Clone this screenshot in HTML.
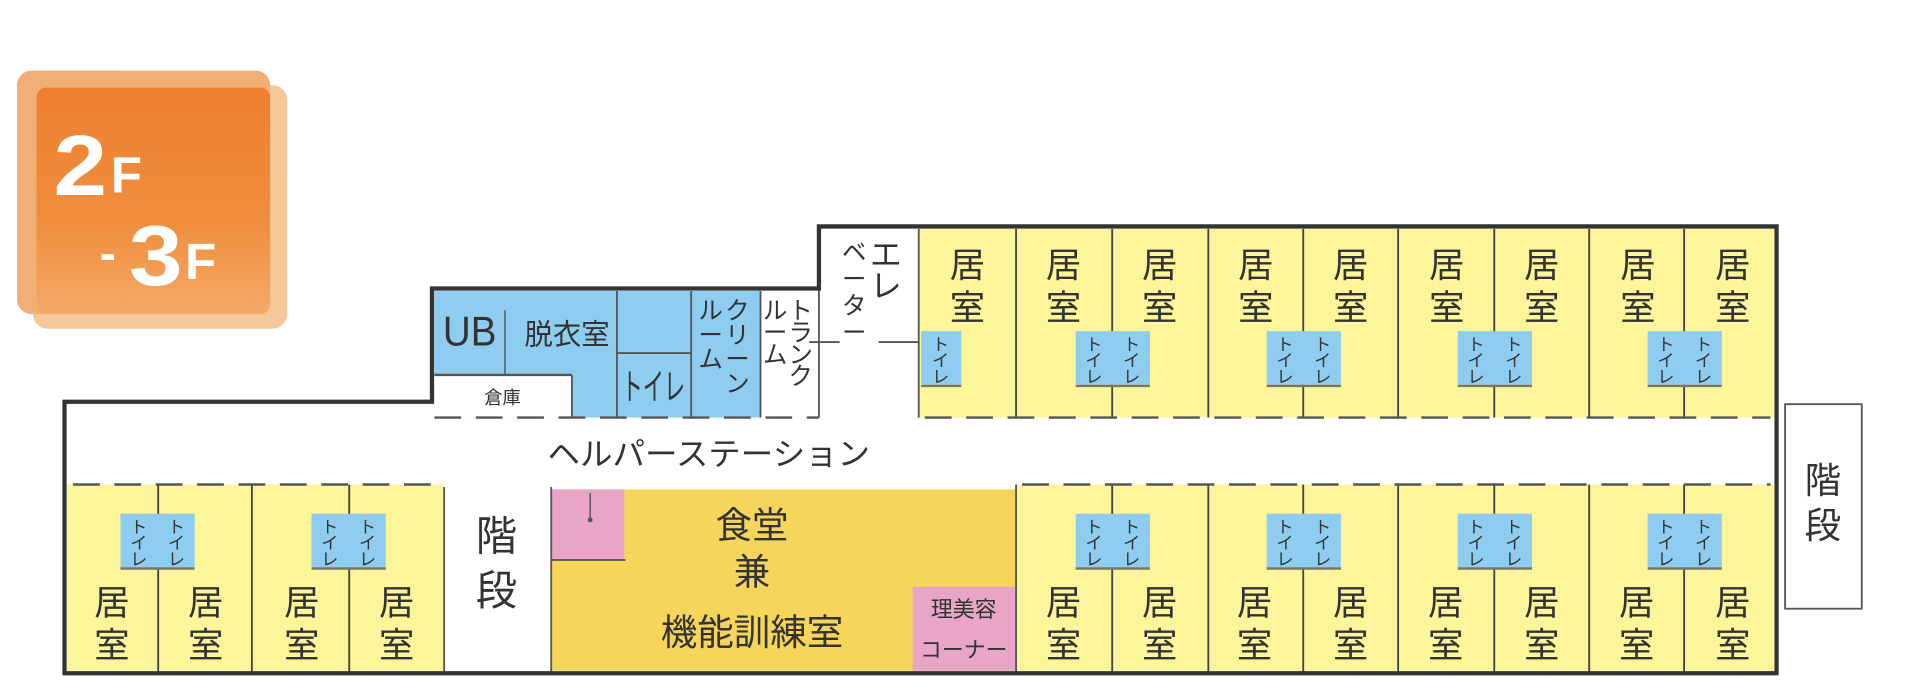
<!DOCTYPE html>
<html><head><meta charset="utf-8"><style>
html,body{margin:0;padding:0;background:#fff}
svg{display:block}
text{font-family:"Liberation Sans","Noto Sans CJK JP",sans-serif;fill:#333}
</style></head><body>
<svg width="1908" height="700" viewBox="0 0 1568 575" preserveAspectRatio="none" xmlns="http://www.w3.org/2000/svg">
<defs>
<linearGradient id="og" x1="0" y1="0" x2="0" y2="1"><stop offset="0" stop-color="#ee8030"/><stop offset="0.6" stop-color="#f08e3e"/><stop offset="1" stop-color="#f3aa68"/></linearGradient>
</defs>
<rect x="14" y="58" width="208" height="200" rx="12" fill="#efa060" opacity="0.85"/>
<rect x="27" y="70" width="209" height="200" rx="12" fill="#f0b070" opacity="0.7"/>
<rect x="30" y="72" width="192" height="186" rx="8" fill="url(#og)"/>
<text x="44" y="160" font-size="70" font-weight="bold" textLength="44" lengthAdjust="spacingAndGlyphs" style="fill:#fff">2</text>
<text x="91" y="158" font-size="42" font-weight="bold" style="fill:#fff">F</text>
<text x="82" y="222" font-size="40" font-weight="bold" style="fill:#fff">-</text>
<text x="106" y="234" font-size="70" font-weight="bold" textLength="44" lengthAdjust="spacingAndGlyphs" style="fill:#fff">3</text>
<text x="152" y="229" font-size="42" font-weight="bold" style="fill:#fff">F</text>

<rect x="1467" y="332" width="63" height="168" fill="#fff" stroke="#555" stroke-width="1.5"/>
<text x="1498" y="405" font-size="30" text-anchor="middle">階</text>
<text x="1498" y="442" font-size="30" text-anchor="middle">段</text>

<path d="M53 330 H355 V237 H673 V186 H1460 V553 H53 Z" fill="#fff"/>
<rect x="755" y="188" width="705" height="155" fill="#fdf59a"/>
<rect x="357" y="239" width="268" height="104" fill="#8ecdf0"/>
<rect x="357" y="308" width="113" height="35" fill="#fff"/>
<line x1="357" y1="308" x2="470" y2="308" stroke="#555" stroke-width="2"/>
<line x1="470" y1="308" x2="470" y2="343" stroke="#555" stroke-width="1.5"/>
<line x1="415" y1="255" x2="415" y2="308" stroke="#555" stroke-width="1.2"/>
<line x1="507" y1="239" x2="507" y2="343" stroke="#555" stroke-width="1.5"/>
<line x1="507" y1="290" x2="568" y2="290" stroke="#555" stroke-width="1.5"/>
<line x1="568" y1="239" x2="568" y2="343" stroke="#555" stroke-width="1.5"/>
<line x1="625" y1="239" x2="625" y2="343" stroke="#555" stroke-width="1.5"/>
<line x1="673" y1="188" x2="673" y2="343" stroke="#555" stroke-width="1.5"/>
<line x1="755" y1="188" x2="755" y2="343" stroke="#555" stroke-width="1.5"/>
<line x1="665" y1="281" x2="690" y2="281" stroke="#555" stroke-width="1.5"/>
<line x1="722" y1="281" x2="755" y2="281" stroke="#555" stroke-width="1.5"/>
<text x="364" y="284" font-size="34" textLength="44" lengthAdjust="spacingAndGlyphs">UB</text>
<text x="431" y="283" font-size="24" textLength="70" lengthAdjust="spacingAndGlyphs">脱衣室</text>
<text x="413" y="332" font-size="15" text-anchor="middle">倉庫</text>
<text x="511" y="328" font-size="30" textLength="52" lengthAdjust="spacingAndGlyphs">トイレ</text>
<g font-size="20" text-anchor="middle">
<text x="606" y="262">ク</text><text x="606" y="282">リ</text><text x="606" y="302">ー</text><text x="606" y="322">ン</text>
<text x="584" y="262">ル</text><text x="584" y="282">ー</text><text x="584" y="302">ム</text>
<text x="658" y="262">ト</text><text x="658" y="280">ラ</text><text x="658" y="298">ン</text><text x="658" y="316">ク</text>
<text x="637" y="262">ル</text><text x="637" y="280">ー</text><text x="637" y="298">ム</text>
<text x="728" y="218" font-size="26">エ</text><text x="728" y="244" font-size="26">レ</text>
<text x="702" y="214">ベ</text><text x="702" y="236">ー</text><text x="702" y="258">タ</text><text x="702" y="280">ー</text>
</g>

<rect x="55" y="398" width="310" height="153" fill="#fdf59a"/>
<rect x="835" y="398" width="625" height="153" fill="#fdf59a"/>
<rect x="453" y="402" width="382" height="149" fill="#f5d65b"/>
<rect x="453" y="402" width="60" height="58" fill="#e8a5c5"/>
<line x1="453" y1="460" x2="514" y2="460" stroke="#555" stroke-width="1.5"/>
<line x1="485" y1="405" x2="485" y2="425" stroke="#555" stroke-width="1.2"/>
<circle cx="485" cy="427" r="2" fill="#555"/>
<rect x="750" y="482" width="85" height="69" fill="#e8a5c5"/>
<line x1="365" y1="400" x2="365" y2="553" stroke="#555" stroke-width="1.5"/>
<line x1="453" y1="400" x2="453" y2="553" stroke="#555" stroke-width="1.5"/>
<line x1="835" y1="398" x2="835" y2="553" stroke="#555" stroke-width="1.5"/>
<text x="408" y="452" font-size="34" text-anchor="middle">階</text>
<text x="408" y="497" font-size="34" text-anchor="middle">段</text>
<text x="618" y="442" font-size="30" text-anchor="middle">食堂</text>
<text x="618" y="480" font-size="30" text-anchor="middle">兼</text>
<text x="618" y="530" font-size="30" text-anchor="middle">機能訓練室</text>
<text x="792" y="507" font-size="18" text-anchor="middle">理美容</text>
<text x="792" y="540" font-size="18" text-anchor="middle">コーナー</text>
<text x="450" y="382" font-size="26" textLength="265" lengthAdjust="spacingAndGlyphs">ヘルパーステーション</text>

<g stroke="#444" stroke-width="1.5">
<line x1="835" y1="188" x2="835" y2="343"/><line x1="914" y1="188" x2="914" y2="343"/>
<line x1="993" y1="188" x2="993" y2="343"/><line x1="1071" y1="188" x2="1071" y2="343"/>
<line x1="1149" y1="188" x2="1149" y2="343"/><line x1="1228" y1="188" x2="1228" y2="343"/>
<line x1="1306" y1="188" x2="1306" y2="343"/><line x1="1384" y1="188" x2="1384" y2="343"/>
<line x1="130" y1="398" x2="130" y2="553"/><line x1="207" y1="398" x2="207" y2="553"/><line x1="287" y1="398" x2="287" y2="553"/>
<line x1="914" y1="398" x2="914" y2="553"/><line x1="993" y1="398" x2="993" y2="553"/>
<line x1="1071" y1="398" x2="1071" y2="553"/><line x1="1149" y1="398" x2="1149" y2="553"/>
<line x1="1228" y1="398" x2="1228" y2="553"/><line x1="1306" y1="398" x2="1306" y2="553"/>
<line x1="1384" y1="398" x2="1384" y2="553"/>
</g>
<g stroke="#555" stroke-width="2" stroke-dasharray="22 12">
<line x1="357" y1="343" x2="673" y2="343"/>
<line x1="760" y1="343" x2="1455" y2="343"/>
<line x1="60" y1="398" x2="360" y2="398"/>
<line x1="840" y1="398" x2="1455" y2="398"/>
</g>

<rect x="757" y="272" width="33" height="44" fill="#8ecdf0"/>
<line x1="757" y1="317" x2="790" y2="317" stroke="#776" stroke-width="2"/>
<g fill="#8ecdf0">
<rect x="884" y="272" width="61" height="44"/><rect x="1041" y="272" width="61" height="44"/>
<rect x="1198" y="272" width="61" height="44"/><rect x="1354" y="272" width="61" height="44"/>
<rect x="99" y="422" width="61" height="44"/><rect x="256" y="422" width="61" height="44"/>
<rect x="884" y="422" width="61" height="44"/><rect x="1041" y="422" width="61" height="44"/>
<rect x="1198" y="422" width="61" height="44"/><rect x="1354" y="422" width="61" height="44"/>
</g>
<g stroke="#776" stroke-width="2">
<line x1="884" y1="317" x2="945" y2="317"/><line x1="1041" y1="317" x2="1102" y2="317"/>
<line x1="1198" y1="317" x2="1259" y2="317"/><line x1="1354" y1="317" x2="1415" y2="317"/>
<line x1="99" y1="467" x2="160" y2="467"/><line x1="256" y1="467" x2="317" y2="467"/>
<line x1="884" y1="467" x2="945" y2="467"/><line x1="1041" y1="467" x2="1102" y2="467"/>
<line x1="1198" y1="467" x2="1259" y2="467"/><line x1="1354" y1="467" x2="1415" y2="467"/>
</g>
<g font-size="14" text-anchor="middle">
<text x="773" y="288">ト</text><text x="773" y="301">イ</text><text x="773" y="314">レ</text>
<g id="tp"><text x="899" y="288">ト</text><text x="899" y="301">イ</text><text x="899" y="314">レ</text><text x="930" y="288">ト</text><text x="930" y="301">イ</text><text x="930" y="314">レ</text></g>
<use href="#tp" x="157"/><use href="#tp" x="314"/><use href="#tp" x="470"/>
<use href="#tp" y="150"/><use href="#tp" x="157" y="150"/><use href="#tp" x="314" y="150"/><use href="#tp" x="470" y="150"/>
<use href="#tp" x="-785" y="150"/><use href="#tp" x="-628" y="150"/>
</g>

<g font-size="29" text-anchor="middle">
<g id="ku"><text x="795" y="228">居</text><text x="795" y="263">室</text></g>
<use href="#ku" x="79"/><use href="#ku" x="158"/><use href="#ku" x="237"/><use href="#ku" x="315"/>
<use href="#ku" x="394"/><use href="#ku" x="472"/><use href="#ku" x="551"/><use href="#ku" x="629"/>
<g id="kl"><text x="874" y="505">居</text><text x="874" y="540">室</text></g>
<use href="#kl" x="79"/><use href="#kl" x="157"/><use href="#kl" x="236"/><use href="#kl" x="314"/>
<use href="#kl" x="393"/><use href="#kl" x="471"/><use href="#kl" x="550"/>
<use href="#kl" x="-782"/><use href="#kl" x="-705"/><use href="#kl" x="-626"/><use href="#kl" x="-548"/>
</g>

<path d="M53 330 H355 V237 H673 V186 H1460 V553 H53 Z" fill="none" stroke="#333" stroke-width="3.5"/>
</svg>
</body></html>
